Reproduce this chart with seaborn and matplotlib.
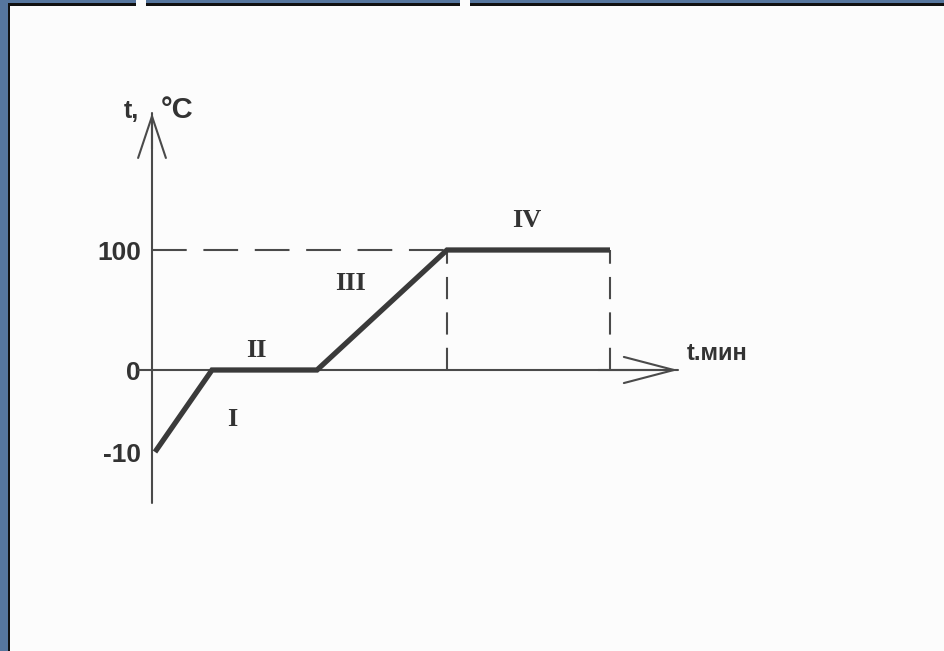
import numpy as np
import pandas as pd
import matplotlib
matplotlib.use("Agg")
import matplotlib.pyplot as plt
import seaborn as sns
from matplotlib.patches import Rectangle

# ---- data ----
time_min = [0.3, 6.0, 16.5, 29.5, 45.8]
temp_c = [-10, 0, 0, 100, 100]
stage_labels = ["I", "II", "III", "IV"]
stage_x = [8.0, 10.4, 19.8, 37.5]
stage_y = [-6.0, 16.0, 72.0, 125.0]
ytick_values = [-10, 0, 100]
ytick_labels = ["-10", "0", "100"]
boiling_temp = 100
boiling_start = 29.5
boiling_end = 45.8
y_axis_label_left = "t,"
y_axis_label_right = "°C"
x_axis_label = "t.мин"

# ---- style ----
sns.set_theme(style="white")
plt.rcParams["font.family"] = ["Liberation Sans", "DejaVu Sans"]
plt.rcParams["lines.scale_dashes"] = False

W, H = 944, 651
fig = plt.figure(figsize=(W / 100, H / 100), dpi=100, facecolor="#fcfcfc")

# axes box in pixels: left at y-axis line (x=152), right at x-arrow tip (678)
px_left, px_right, px_top, px_bottom = 152, 678, 113, 503
ax = fig.add_axes([px_left / W, (H - px_bottom) / H,
                   (px_right - px_left) / W, (px_bottom - px_top) / H])
ax.set_facecolor("none")

# schematic (non-uniform) temperature scale: positive part compressed
def fwd(v):
    v = np.asarray(v, dtype=float)
    return np.where(v >= 0, v * 1.2, v * 8.2)

def inv(v):
    v = np.asarray(v, dtype=float)
    return np.where(v >= 0, v / 1.2, v / 8.2)

ax.set_yscale("function", functions=(fwd, inv))
ax.set_xlim(0, (px_right - px_left) / 10)
ax.set_ylim(-(px_bottom - 370) / 8.2, (370 - px_top) / 1.2)

axis_col = "#4a4a4a"
curve_col = "#3a3a3a"
text_col = "#333333"

df = pd.DataFrame({"time": time_min, "temp": temp_c})
sns.lineplot(data=df, x="time", y="temp", ax=ax, color=curve_col,
             linewidth=3.8, estimator=None, sort=False,
             solid_joinstyle="miter", solid_capstyle="butt", zorder=5)

# dashed guide lines
ax.plot([0, boiling_start], [boiling_temp, boiling_temp], color=axis_col,
        linewidth=1.5, dashes=(25, 12), zorder=3)
for xv in (boiling_start, boiling_end):
    ax.plot([xv, xv], [0, boiling_temp], color=axis_col, linewidth=1.5,
            dashes=(16, 9.5), zorder=3)

# axes lines with open arrowheads
ymin, ymax = ax.get_ylim()
xmin, xmax = ax.get_xlim()
ax.plot([0, 0], [ymin, ymax], color=axis_col, linewidth=1.5, clip_on=False)
ax.plot([-1.4, xmax], [0, 0], color=axis_col, linewidth=1.5, clip_on=False)
ax.annotate("", xy=(0, ymax), xytext=(0, ymax - 30),
            arrowprops=dict(arrowstyle="->,head_length=1.5,head_width=0.5",
                            color=axis_col, lw=1.5, mutation_scale=20,
                            shrinkA=0, shrinkB=0),
            annotation_clip=False)
ax.annotate("", xy=(xmax, 0), xytext=(xmax - 8, 0),
            arrowprops=dict(arrowstyle="->,head_length=1.8,head_width=0.47",
                            color=axis_col, lw=1.5, mutation_scale=20,
                            shrinkA=0, shrinkB=0),
            annotation_clip=False)

# ticks
ax.set_xticks([])
ax.set_yticks(ytick_values)
ax.set_yticklabels(ytick_labels, fontsize=19, color=text_col, fontweight="bold")
ax.tick_params(axis="y", length=0, pad=8)
for s in ax.spines.values():
    s.set_visible(False)
ax.set_xlabel("")
ax.set_ylabel("")

# stage numerals
for lab, xv, yv in zip(stage_labels, stage_x, stage_y):
    ax.text(xv, yv, lab, fontsize=19, family=["Liberation Serif", "DejaVu Serif"],
            fontweight="bold", ha="center", va="center", color=text_col)

# axis titles
fig.text(139 / W, 1 - 111 / H, y_axis_label_left, fontsize=18, ha="right",
         va="center", color=text_col, fontweight="bold")
fig.text(161 / W, 1 - 110 / H, y_axis_label_right, fontsize=21, ha="left",
         va="center", color=text_col, fontweight="bold")
fig.text(687 / W, 1 - 354 / H, x_axis_label, fontsize=17, ha="left",
         va="center", color=text_col, fontweight="bold")

# slide frame (blue border, black inner line, white tabs)
blue = "#56769e"
def prect(x0, y0, w, h, c):
    fig.patches.append(Rectangle((x0 / W, 1 - (y0 + h) / H), w / W, h / H,
                                 transform=fig.transFigure, color=c,
                                 zorder=10, lw=0))
prect(0, 0, W, 3.2, blue)
prect(0, 0, 8.3, H, blue)
prect(8.3, 3.2, W - 8.3, 2.4, "#111111")
prect(8.3, 3.2, 2.0, H - 3.2, "#111111")
prect(136, 0, 10, 5.6, "#fcfcfc")
prect(460, 0, 10, 5.6, "#fcfcfc")

fig.savefig("out.png", dpi=100, facecolor=fig.get_facecolor())
